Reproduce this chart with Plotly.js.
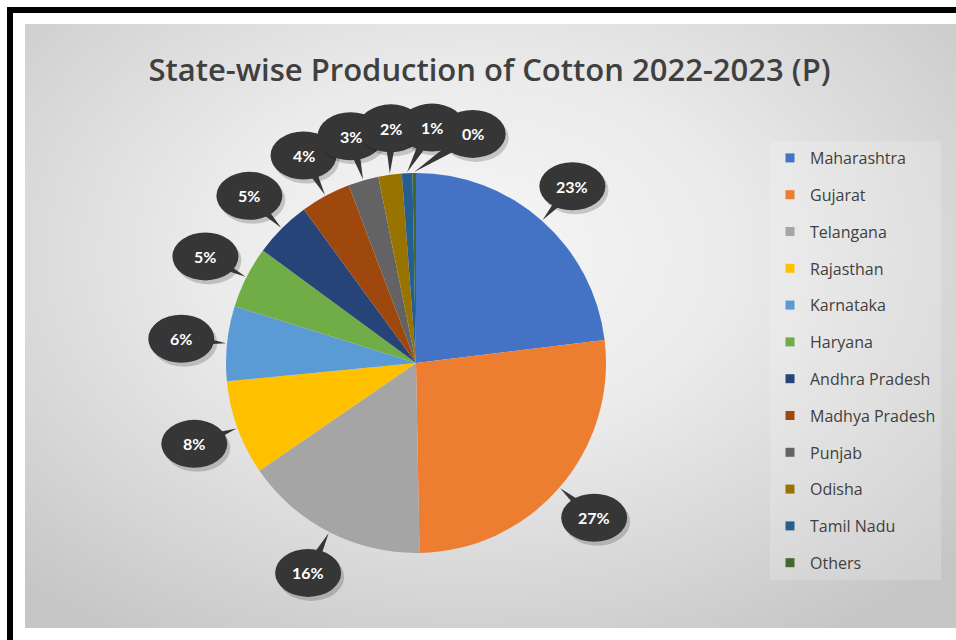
<!DOCTYPE html>
<html>
<head>
<meta charset="utf-8">
<script src="https://cdn.plot.ly/plotly-3.0.1.min.js"></script>
<style>
  html, body { margin: 0; padding: 0; background: #ffffff; width: 956px; height: 640px; overflow: hidden; }
  #frame { position: absolute; left: 7px; top: 7px; width: 960px; height: 650px; border-top: 6px solid #000; border-left: 6px solid #000; }
  #bg { position: absolute; left: 25px; top: 24px; width: 931px; height: 604px;
        background: radial-gradient(ellipse 70% 75% at 48% 38%, #f6f6f6 0%, #ebebeb 40%, #d6d6d6 75%, #c6c6c6 100%); }
  #chart { position: absolute; left: 0; top: 0; width: 956px; height: 640px; }
</style>
</head>
<body>
<div id="frame"></div>
<div id="bg"></div>
<div id="chart"></div>
<script>
// ---- data ----
const states = ["Maharashtra", "Gujarat", "Telangana", "Rajasthan", "Karnataka", "Haryana",
                "Andhra Pradesh", "Madhya Pradesh", "Punjab", "Odisha", "Tamil Nadu", "Others"];
const shares = [23.2, 26.8, 15.8, 8.1, 6.4, 5.3, 4.9, 4.3, 2.6, 2.0, 0.9, 0.3];
const sliceColors = ["#4472C4", "#ED7D31", "#A5A5A5", "#FFC000", "#5B9BD5", "#70AD47",
                     "#264478", "#9E480E", "#636363", "#997300", "#255E91", "#43682B"];
const chartTitle = "State-wise Production of Cotton 2022-2023 (P)";

// ---- geometry (pixels) ----
const W = 956, H = 640;
const cx = 416, cy = 363, R = 190;
const labelR = R + 46, minSep = 10;
const bw = 33, bh = 24;

const total = shares.reduce((a, b) => a + b, 0);
const traces = [{
  type: "pie",
  values: shares,
  labels: states,
  marker: { colors: sliceColors, line: { width: 0 } },
  sort: false,
  direction: "clockwise",
  rotation: 0,
  textinfo: "none",
  hoverinfo: "label+percent",
  showlegend: false,
  domain: { x: [(cx - R) / W, (cx + R) / W], y: [(H - cy - R) / H, (H - cy + R) / H] }
}];

// legend entries as marker-only traces
states.forEach((s, i) => {
  traces.push({
    type: "scatter", mode: "markers", x: [null], y: [null], name: s,
    legendgroup: "g" + i, showlegend: true, hoverinfo: "skip",
    marker: { symbol: "square", size: 9, color: sliceColors[i] }
  });
});

// callout bubbles
const shapes = [], annotations = [];
let cum = 0, prevLab = -1e9;
const deg = Math.PI / 180;
states.forEach((s, i) => {
  const frac = shares[i] / total;
  const mid = (cum + frac / 2) * 360;
  cum += frac;
  let lab = mid;
  if (lab - prevLab < minSep) lab = prevLab + minSep;
  prevLab = lab;
  const tx = cx + (R + 1) * Math.sin(mid * deg), ty = cy - (R + 1) * Math.cos(mid * deg);
  const bx = cx + labelR * Math.sin(lab * deg), by = cy - labelR * Math.cos(lab * deg);
  const dx = tx - bx, dy = ty - by, L = Math.hypot(dx, dy);
  const px = -dy / L * 7, py = dx / L * 7;
  shapes.push({ type: "circle", xref: "x", yref: "y", layer: "above",
    x0: bx - bw + 3, x1: bx + bw + 3, y0: by - bh + 4, y1: by + bh + 4,
    fillcolor: "rgba(0,0,0,0.18)", line: { width: 0 } });
  shapes.push({ type: "path", xref: "x", yref: "y", layer: "above",
    path: `M ${tx},${ty} L ${bx + px},${by + py} L ${bx - px},${by - py} Z`,
    fillcolor: "#363636", line: { width: 0 } });
  shapes.push({ type: "circle", xref: "x", yref: "y", layer: "above",
    x0: bx - bw, x1: bx + bw, y0: by - bh, y1: by + bh,
    fillcolor: "#363636", line: { width: 0 } });
  annotations.push({ xref: "x", yref: "y", x: bx, y: by, showarrow: false,
    text: Math.round(frac * 100) + "%",
    font: { family: "Lato, 'Open Sans', sans-serif", size: 16, color: "#ffffff", weight: "bold" } });
});

const layout = {
  width: W, height: H,
  margin: { l: 0, r: 0, t: 0, b: 0, pad: 0 },
  paper_bgcolor: "rgba(0,0,0,0)",
  plot_bgcolor: "rgba(0,0,0,0)",
  title: { text: chartTitle, x: 0.512, xanchor: "center", y: 0.89, yanchor: "middle",
           font: { family: "'Open Sans', sans-serif", size: 31, color: "#404040", weight: 600 } },
  xaxis: { range: [0, W], visible: false, fixedrange: true },
  yaxis: { range: [H, 0], visible: false, fixedrange: true },
  showlegend: true,
  legend: { x: 770 / W, xanchor: "left", y: 1 - 141 / H, yanchor: "top",
            bgcolor: "rgba(255,255,255,0.18)", borderwidth: 0,
            tracegroupgap: 13, itemwidth: 30,
            font: { family: "'Open Sans', sans-serif", size: 16, color: "#404040" } },
  shapes: shapes,
  annotations: annotations
};

Plotly.newPlot("chart", traces, layout, { displayModeBar: false, staticPlot: true });
</script>
</body>
</html>
